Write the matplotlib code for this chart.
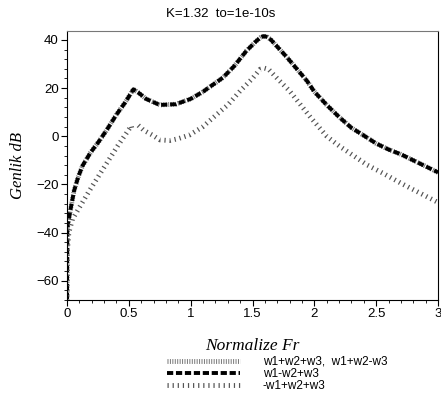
import numpy as np
import matplotlib
matplotlib.use("Agg")
import matplotlib.pyplot as plt
from matplotlib.ticker import AutoMinorLocator, MultipleLocator, FormatStrFormatter

plt.rcParams['font.family'] = ['Liberation Sans', 'DejaVu Sans']

# upper curve: w1+w2+w3 / w1+w2-w3 and w1-w2+w3 lie on top of each other
x_up = [0.0, 0.002, 0.006, 0.03, 0.057, 0.09, 0.125, 0.19, 0.26, 0.32, 0.40, 0.47,
        0.537, 0.58, 0.64, 0.75, 0.88, 1.0, 1.1, 1.26, 1.35, 1.45, 1.53, 1.565,
        1.59, 1.62, 1.65, 1.78, 1.94, 2.0, 2.1, 2.2, 2.3, 2.4, 2.5, 2.6, 2.7,
        2.8, 2.9, 3.0]
y_up = [-75, -40, -37, -30, -22.7, -17, -12.3, -6.8, -2, 2.5, 9, 14,
        19.5, 18, 15.5, 13, 13.3, 15.5, 18.5, 24.3, 29, 35.4, 39.5, 41.0,
        41.6, 41.2, 40, 32.7, 23, 18.5, 13, 8, 3.5, 0.3, -3, -5.5, -7.5,
        -10, -12.5, -15]

# lower curve: -w1+w2+w3 (broken near Fr=0.55)
x_low = [0.0, 0.003, 0.015, 0.045, 0.1, 0.18, 0.29, 0.41, 0.52, 0.53, np.nan,
         0.577, 0.62, 0.69, 0.75, 0.83, 0.9, 0.99, 1.1, 1.21, 1.3, 1.4, 1.5,
         1.56, 1.595, 1.63, 1.7, 1.8, 1.97, 2.1, 2.2, 2.3, 2.43, 2.56, 2.7,
         2.85, 3.0]
y_low = [-75, -48, -40, -34.4, -29.6, -22.7, -13.7, -4, 4.3, 2.0, np.nan,
         4.5, 2.5, 0.5, -1.5, -1.8, -1, 0.5, 4, 9, 13, 18.8, 24,
         27.8, 28.3, 27.8, 24, 18.8, 7.8, 0, -4, -7.5, -12, -15.5, -19.5,
         -23.5, -27.5]

labels = ['w1+w2+w3,  w1+w2-w3', 'w1-w2+w3', '-w1+w2+w3']

fig = plt.figure(figsize=(4.41, 3.94), dpi=100)
ax = fig.add_axes([67 / 441, 1 - 300 / 394, 371 / 441, 269 / 394])

l1, = ax.plot(x_up, y_up, color='#777777', lw=3.5, linestyle=(0, (0.2, 0.3)),
              dash_capstyle='butt', solid_capstyle='butt')
l2, = ax.plot(x_up, y_up, color='black', lw=2.8, linestyle=(0, (1.6, 0.7)),
              dash_capstyle='butt')
l3, = ax.plot(x_low, y_low, color='#555555', lw=3.5, linestyle=(0, (0.25, 0.8)),
              dash_capstyle='butt')

ax.set_xlim(0, 3)
ax.set_ylim(-68, 43.7)
ax.xaxis.set_major_locator(MultipleLocator(0.5))
ax.xaxis.set_minor_locator(AutoMinorLocator(5))
ax.yaxis.set_major_locator(MultipleLocator(20))
ax.yaxis.set_minor_locator(AutoMinorLocator(5))
ax.xaxis.set_major_formatter(FormatStrFormatter('%g'))
ax.tick_params(which='major', direction='out', length=4, width=0.8,
               labelsize=9.5, pad=2)
ax.tick_params(which='minor', direction='out', length=2, width=0.6)
ax.spines['top'].set_color('#777777')
for s in ax.spines.values():
    s.set_linewidth(0.8)

fig.text(0.5, 1 - 14 / 394, 'K=1.32  to=1e-10s', fontsize=9.5,
         ha='center', va='center')
ax.set_ylabel('Genlik dB', family='Liberation Serif', style='italic',
              fontsize=12, labelpad=7)
ax.set_xlabel('Normalize Fr', family='Liberation Serif', style='italic',
              fontsize=12.5, labelpad=13)

fig.legend([l1, l2, l3], labels, loc='upper left',
           bbox_to_anchor=(167 / 441, 1 - 356 / 394), frameon=False,
           fontsize=8.5, handlelength=6.2, handletextpad=1.9,
           labelspacing=0.0, borderpad=0, borderaxespad=0)

fig.savefig('out.png', dpi=100)
